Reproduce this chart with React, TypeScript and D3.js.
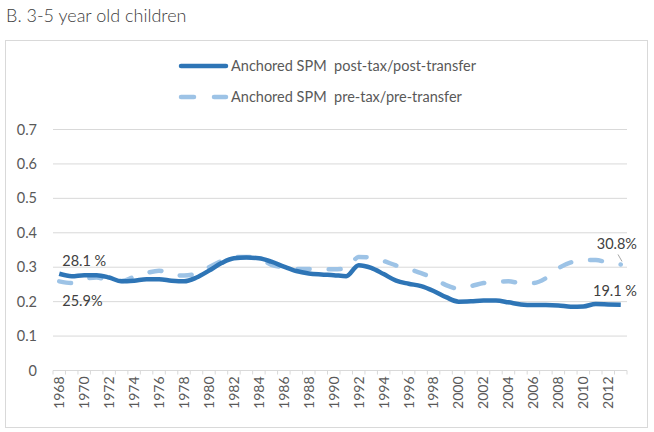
import React from "react";
import * as d3 from "d3";

const years: number[] = [
  1968, 1969, 1970, 1971, 1972, 1973, 1974, 1975, 1976, 1977, 1978, 1979, 1980, 1981, 1982, 1983,
  1984, 1985, 1986, 1987, 1988, 1989, 1990, 1991, 1992, 1993, 1994, 1995, 1996, 1997, 1998, 1999,
  2000, 2001, 2002, 2003, 2004, 2005, 2006, 2007, 2008, 2009, 2010, 2011, 2012, 2013,
];

const postTax: number[] = [
  0.281, 0.274, 0.277, 0.277, 0.27, 0.259, 0.261, 0.265, 0.265, 0.261, 0.259, 0.27, 0.29, 0.312, 0.326, 0.328,
  0.326, 0.316, 0.302, 0.289, 0.282, 0.279, 0.277, 0.274, 0.306, 0.298, 0.28, 0.261, 0.252, 0.245, 0.231, 0.213,
  0.2, 0.201, 0.203, 0.203, 0.198, 0.192, 0.19, 0.19, 0.189, 0.185, 0.186, 0.193, 0.192, 0.191,
];

const preTax: number[] = [
  0.259, 0.254, 0.266, 0.27, 0.262, 0.26, 0.272, 0.283, 0.29, 0.278, 0.276, 0.281, 0.3, 0.318, 0.33, 0.33,
  0.326, 0.307, 0.3, 0.295, 0.295, 0.294, 0.294, 0.296, 0.33, 0.328, 0.318, 0.305, 0.295, 0.283, 0.268, 0.248,
  0.238, 0.245, 0.254, 0.258, 0.259, 0.254, 0.254, 0.268, 0.297, 0.314, 0.32, 0.321, 0.313, 0.308,
];

const yTicks: number[] = [0, 0.1, 0.2, 0.3, 0.4, 0.5, 0.6, 0.7];
const yTickLabels: string[] = ["0", "0.1", "0.2", "0.3", "0.4", "0.5", "0.6", "0.7"];
const xLabelYears: number[] = years.filter((y) => y % 2 === 0 && y <= 2012);

const seriesNames: string[] = [
  "Anchored SPM  post-tax/post-transfer",
  "Anchored SPM  pre-tax/pre-transfer",
];
const titleText = "B. 3-5 year old children";
const dataLabels: string[] = ["28.1 %", "25.9%", "19.1 %", "30.8%"];

const FONT = "Lato, 'Open Sans', sans-serif";
const DARK = "#2E75B6";
const LIGHT = "#9DC3E6";
const TEXT = "#595959";
const GRID = "#D9D9D9";

export default function App() {
  const W = 654;
  const H = 432;
  const x = d3.scaleBand<number>().domain(years).range([53, 627]).paddingInner(0).paddingOuter(0);
  const y = d3.scaleLinear().domain([0, 0.7]).range([370.5, 129.5]);
  const cx = (yr: number) => (x(yr) as number) + x.bandwidth() / 2;

  const line = d3
    .line<number>()
    .x((_, i) => cx(years[i]))
    .y((d) => y(d))
    .curve(d3.curveMonotoneX);

  const n = years.length;
  const boundaries = d3.range(n + 1).map((i) => 53 + i * x.bandwidth());

  return (
    <div style={{ position: "absolute", left: 0, top: 0 }}>
      <svg width={W} height={H} style={{ display: "block", fontFamily: FONT }}>
        <rect x={0} y={0} width={W} height={H} fill="#fff" />
        <text x={6} y={22} fontSize={18} fill="#404040" fontWeight={300}>
          {titleText}
        </text>
        <rect x={5.5} y={40.5} width={642} height={387} fill="#fff" stroke={GRID} strokeWidth={1} />

        {/* legend */}
        <line x1={181} x2={226} y1={66} y2={66} stroke={DARK} strokeWidth={4.5} strokeLinecap="round" />
        <text x={231} y={66} dy="0.35em" fontSize={14.5} fill={TEXT} style={{ whiteSpace: "pre" }}>
          {seriesNames[0]}
        </text>
        <line x1={181} x2={194} y1={97} y2={97} stroke={LIGHT} strokeWidth={4.5} strokeLinecap="round" />
        <line x1={214} x2={226} y1={97} y2={97} stroke={LIGHT} strokeWidth={4.5} strokeLinecap="round" />
        <text x={231} y={97} dy="0.35em" fontSize={14.5} fill={TEXT} style={{ whiteSpace: "pre" }}>
          {seriesNames[1]}
        </text>

        {/* grid + y labels */}
        {yTicks.map((t, i) => (
          <g key={t}>
            {t > 0 && <line x1={53} x2={627} y1={y(t)} y2={y(t)} stroke={GRID} strokeWidth={1} />}
            <text x={37} y={y(t)} dy="0.35em" textAnchor="end" fontSize={14.5} fill={TEXT}>
              {yTickLabels[i]}
            </text>
          </g>
        ))}

        {/* x axis */}
        <line x1={53} x2={627} y1={y(0)} y2={y(0)} stroke={GRID} strokeWidth={1} />
        {boundaries.map((b, i) => (
          <line key={i} x1={b} x2={b} y1={y(0)} y2={y(0) + 4} stroke={GRID} strokeWidth={1} />
        ))}
        {xLabelYears.map((yr) => (
          <text
            key={yr}
            transform={`translate(${cx(yr)},${y(0) + 6}) rotate(-90)`}
            textAnchor="end"
            dy="0.35em"
            fontSize={14}
            fill={TEXT}
          >
            {yr}
          </text>
        ))}

        {/* series */}
        <path d={line(preTax) || ""} fill="none" stroke={LIGHT} strokeWidth={4.5} strokeLinecap="round" strokeDasharray="12 19" />
        <path d={line(postTax) || ""} fill="none" stroke={DARK} strokeWidth={4.5} strokeLinejoin="round" />

        {/* data labels */}
        <text x={cx(years[0]) + 3} y={y(postTax[0]) - 13} dy="0.35em" fontSize={14.5} fill="#404040" style={{ whiteSpace: "pre" }}>
          {dataLabels[0]}
        </text>
        <text x={cx(years[0]) + 3} y={y(preTax[0]) + 20} dy="0.35em" fontSize={14.5} fill="#404040">
          {dataLabels[1]}
        </text>
        <text x={637} y={y(postTax[n - 1]) - 14} dy="0.35em" textAnchor="end" fontSize={14.5} fill="#404040" style={{ whiteSpace: "pre" }}>
          {dataLabels[2]}
        </text>
        <text x={637} y={y(preTax[n - 1]) - 21} dy="0.35em" textAnchor="end" fontSize={14.5} fill="#404040">
          {dataLabels[3]}
        </text>
        <line x1={618} y1={y(preTax[n - 1]) - 10} x2={622} y2={y(preTax[n - 1]) - 3} stroke="#A6A6A6" strokeWidth={1} />
      </svg>
    </div>
  );
}
